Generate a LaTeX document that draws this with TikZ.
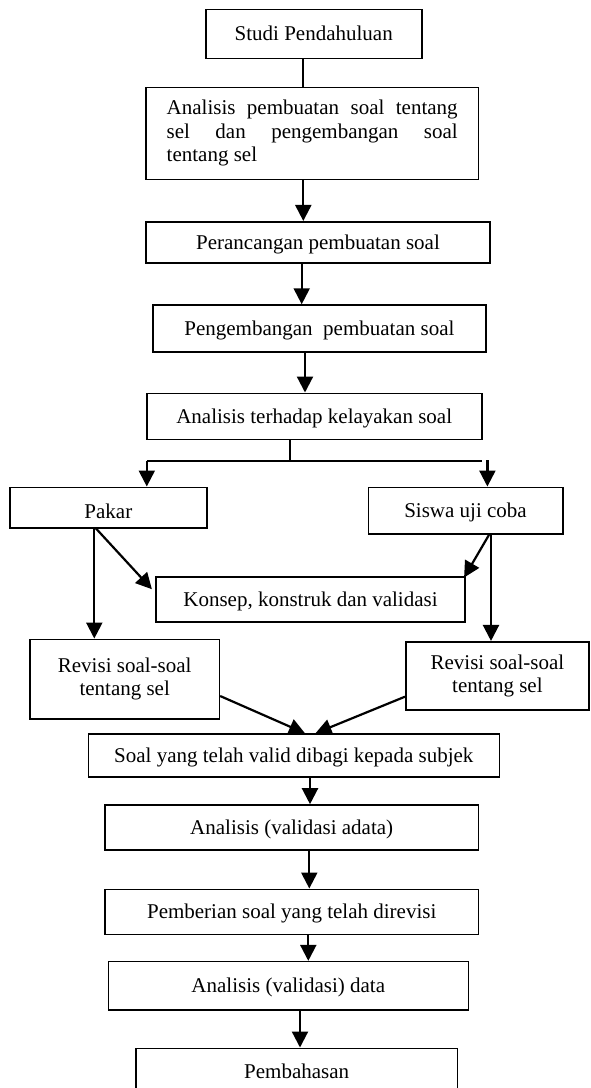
\documentclass[tikz,border=0pt]{standalone}
\usepackage{fontspec}
\setmainfont{Liberation Serif}
\usetikzlibrary{arrows.meta,calc}
\begin{document}
\begin{tikzpicture}[x=1pt,y=-1pt,
  box/.style={draw, line width=1.6pt, inner sep=0pt, font=\fontsize{21}{23.5}\selectfont, text height=18pt, text depth=4pt},
  mbox/.style={draw, line width=1.6pt, inner sep=0pt, font=\fontsize{21}{23.5}\selectfont},
  arr/.style={line width=2.2pt, -{Triangle[length=16pt,width=16pt]}},
  ln/.style={line width=1.4pt},
]
\useasboundingbox (0,0) rectangle (590,1088);
\clip (0,0) rectangle (590,1088);

% boxes
\node[box, minimum width=216pt, minimum height=49pt] (studi) at (313.7,33.8) {Studi Pendahuluan};
\node[mbox, align=left, minimum width=332.3pt, minimum height=92.1pt] (anal1) at (312.2,133.4)
  {\makebox[291pt][s]{Analisis pembuatan soal tentang}\\\makebox[291pt][s]{sel dan pengembangan soal}\\tentang sel};
\node[box, minimum width=344pt, minimum height=41.3pt] (peran) at (318,242.4) {Perancangan pembuatan soal};
\node[box, minimum width=333.3pt, minimum height=46.7pt] (pengem) at (319.4,328.4) {Pengembangan\ \ pembuatan soal};
\node[box, minimum width=335pt, minimum height=46pt] (anal2) at (314.2,416.3) {Analisis terhadap kelayakan soal};
\node[box, text height=25pt, minimum width=196.7pt, minimum height=40.4pt] (pakar) at (108.4,507.5) {Pakar};
\node[box, minimum width=194.4pt, minimum height=46.7pt] (siswa) at (465.5,510.7) {Siswa uji coba};
\node[box, minimum width=309pt, minimum height=45pt] (konsep) at (310.5,599.2) {Konsep, konstruk dan validasi};
\node[mbox, align=center, minimum width=189.3pt, minimum height=79.7pt] (rev1) at (124.7,679.2) {Revisi soal-soal\\tentang sel};
\node[mbox, align=center, minimum width=183.3pt, minimum height=68.3pt] (rev2) at (497.4,675.9) {Revisi soal-soal\\tentang sel};
\node[box, minimum width=411pt, minimum height=42.7pt] (soal) at (293.8,755.4) {Soal yang telah valid dibagi kepada subjek};
\node[box, minimum width=373.3pt, minimum height=45pt] (anal3) at (291.7,827.5) {Analisis (validasi adata)};
\node[box, minimum width=373.3pt, minimum height=45pt] (pemb) at (291.7,911.8) {Pemberian soal yang telah direvisi};
\node[box, minimum width=360pt, minimum height=48.3pt] (anal4) at (288.3,985.8) {Analisis (validasi) data};
\node[box, minimum width=321.3pt, minimum height=46pt] (bahas) at (296.7,1071.3) {Pembahasan};

% connectors
\coordinate (x1) at (303.3,0);
\draw[line width=2pt] (studi.south -| x1) -- (anal1.north -| x1);
\draw[arr] (anal1.south -| x1) -- (peran.north -| x1);
\coordinate (x2) at (301.7,0);
\draw[arr] (peran.south -| x2) -- (pengem.north -| x2);
\coordinate (x3) at (305,0);
\draw[arr] (pengem.south -| x3) -- (anal2.north -| x3);

\coordinate (split) at (289.8,461);
\coordinate (hl) at (146.8,461);
\coordinate (hr) at (481.7,461);
\coordinate (ar) at (487.4,460);
\draw[ln] (anal2.south -| split) -- (split);
\draw[ln] (hl) -- (hr);
\draw[arr] (hl) -- (pakar.north -| hl);
\draw[arr] (ar) -- (siswa.north -| ar);

\coordinate (px) at (94.3,0);
\draw[arr] (pakar.south -| px) -- (rev1.north -| px);
\draw[arr] ($(pakar.south)+(-12.4,0)$) -- ($(konsep.north west)+(-3.3,13.3)$);
\draw[arr] ($(siswa.south)+(23.5,0)$) -- ($(konsep.north east)+(-1.7,1.6)$);
\coordinate (sx) at (491,0);
\draw[arr] (siswa.south -| sx) -- (rev2.north -| sx);

\draw[arr] ($(rev1.east)+(0,16.8)$) -- ($(soal.north)+(11.2,0)$);
\draw[arr] ($(rev2.west)+(0,20.8)$) -- ($(soal.north)+(21.7,0)$);

\coordinate (x4) at (310,0);
\draw[arr] (soal.south -| x4) -- (anal3.north -| x4);
\coordinate (x5) at (309.3,0);
\draw[arr] (anal3.south -| x5) -- (pemb.north -| x5);
\coordinate (x6) at (308.3,0);
\draw[arr] (pemb.south -| x6) -- (anal4.north -| x6);
\coordinate (x7) at (300,0);
\draw[arr] (anal4.south -| x7) -- (bahas.north -| x7);
\end{tikzpicture}
\end{document}
